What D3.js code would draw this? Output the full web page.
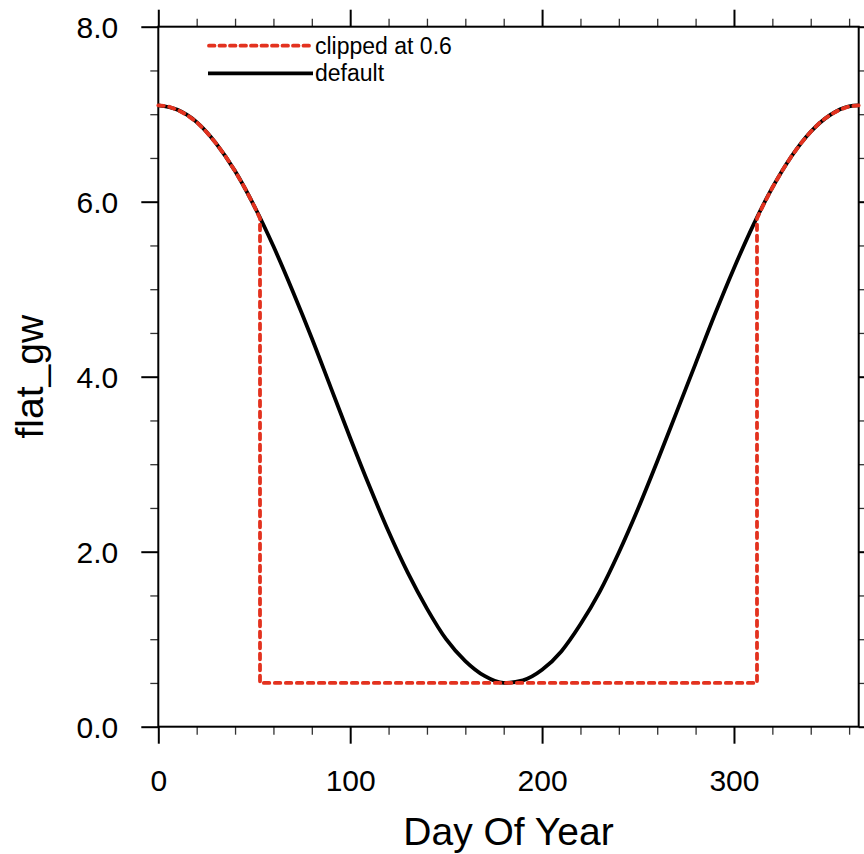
<!DOCTYPE html>
<html>
<head>
<meta charset="utf-8">
<script src="https://cdn.jsdelivr.net/npm/d3@7"></script>
<style>
  body { margin: 0; background: #fff; }
  svg { display: block; font-family: "Liberation Sans", Arial, Helvetica, sans-serif; }
  .tick text { font-family: "Liberation Sans", Arial, Helvetica, sans-serif; }
</style>
</head>
<body>
<script>
// default series
const days = [0, 10, 20, 30, 40, 50, 60, 70, 80, 90, 100, 110, 120, 130, 140, 150, 160, 170, 180,
  190, 200, 210, 220, 230, 240, 250, 260, 270, 280, 290, 300, 310, 320, 330, 340, 350, 360, 365];
const defaultVals = [7.10, 7.05, 6.91, 6.67, 6.35, 5.95, 5.49, 4.98, 4.44, 3.87, 3.30, 2.75, 2.23, 1.76, 1.35, 1.00, 0.75, 0.58, 0.50,
  0.53, 0.65, 0.86, 1.17, 1.54, 1.99, 2.49, 3.03, 3.59, 4.15, 4.71, 5.24, 5.73, 6.16, 6.52, 6.80, 6.99, 7.09, 7.10];

// clipped series
const clipDays = [0, 5, 10, 15, 20, 25, 30, 35, 40, 45, 50, 53, 53, 312, 312, 315, 320, 325, 330, 335, 340, 345, 350, 355, 360, 365];
const clipVals = [7.10, 7.09, 7.05, 6.99, 6.91, 6.80, 6.67, 6.52, 6.35, 6.16, 5.95, 5.81, 0.50, 0.50, 5.81, 5.95, 6.16, 6.35, 6.52, 6.67, 6.80, 6.91, 6.99, 7.05, 7.09, 7.10];

const xMajor = [0, 100, 200, 300];
const yMajor = [0, 2, 4, 6, 8];
const legendLabels = ["clipped at 0.6", "default"];

const w = 864;
const h = 854;
const pLeft = 158.3, pRight = 858.7, pTop = 26.7, pBottom = 726.7;
const red = "#e3321f";

const svg = d3.select("body").append("svg").attr("width", w).attr("height", h);

const x = d3.scaleLinear().domain([0, 365]).range([pLeft, pRight]);
const y = d3.scaleLinear().domain([0, 8]).range([pBottom, pTop]);

const xMinor = d3.range(0, 366, 20).filter((d) => !xMajor.includes(d));
const yMinor = d3.range(0, 8.01, 0.5).filter((d) => !yMajor.includes(d));

// axes: majors, minors, on all four sides
function addAxis(axisFn, scale, pos, majors, minors, withLabels) {
  const major = axisFn(scale).tickValues(majors).tickSize(17).tickPadding(14);
  if (!withLabels) major.tickFormat("");
  else major.tickFormat(scale === y ? d3.format(".1f") : d3.format("d"));
  const minor = axisFn(scale).tickValues(minors).tickSize(8).tickFormat("");
  const gM = svg.append("g").attr("transform", pos).call(minor);
  gM.selectAll("line").attr("stroke", "#333").attr("stroke-width", 1.3);
  const g = svg.append("g").attr("transform", pos).call(major);
  g.selectAll("line").attr("stroke", "#000").attr("stroke-width", 2);
  g.selectAll("text").attr("font-size", 30).attr("fill", "#000");
  svg.selectAll(".domain").remove();
  return g;
}

const gx = addAxis(d3.axisBottom, x, `translate(0,${pBottom})`, xMajor, xMinor, true);
gx.selectAll("text").attr("dy", null).attr("y", 64);
addAxis(d3.axisTop, x, `translate(0,${pTop})`, xMajor, xMinor, false);
const gy = addAxis(d3.axisLeft, y, `translate(${pLeft},0)`, yMajor, yMinor, true);
gy.selectAll("text").attr("dy", "0.36em").attr("x", -40);
addAxis(d3.axisRight, y, `translate(${pRight},0)`, yMajor, yMinor, false);

// frame
svg.append("rect")
  .attr("x", pLeft).attr("y", pTop)
  .attr("width", pRight - pLeft).attr("height", pBottom - pTop)
  .attr("fill", "none").attr("stroke", "#000").attr("stroke-width", 2);

// lines
const lineDefault = d3.line()
  .x((d, i) => x(days[i]))
  .y((d) => y(d))
  .curve(d3.curveMonotoneX);

const lineClip = d3.line()
  .x((d, i) => x(clipDays[i]))
  .y((d) => y(d));

svg.append("path")
  .attr("d", lineDefault(defaultVals))
  .attr("fill", "none").attr("stroke", "#000").attr("stroke-width", 3.8);

svg.append("path")
  .attr("d", lineClip(clipVals))
  .attr("fill", "none").attr("stroke", red).attr("stroke-width", 3.8)
  .attr("stroke-linecap", "round")
  .attr("stroke-dasharray", "5.5,5.5");

// legend
const legend = svg.append("g");
const legendY = [45.7, 73.3];
legend.append("line")
  .attr("x1", 209).attr("x2", 312).attr("y1", legendY[0]).attr("y2", legendY[0])
  .attr("stroke", red).attr("stroke-width", 3.8).attr("stroke-linecap", "round")
  .attr("stroke-dasharray", "5.5,5");
legend.append("line")
  .attr("x1", 208).attr("x2", 313).attr("y1", legendY[1]).attr("y2", legendY[1])
  .attr("stroke", "#000").attr("stroke-width", 3.8);
legend.selectAll("text")
  .data(legendLabels)
  .enter()
  .append("text")
  .attr("x", 315)
  .attr("y", (d, i) => legendY[i] + 8)
  .attr("font-size", 23)
  .text((d) => d);

// axis titles
svg.append("text")
  .attr("x", (pLeft + pRight) / 2)
  .attr("y", 845)
  .attr("text-anchor", "middle")
  .attr("font-size", 39)
  .text("Day Of Year");

svg.append("text")
  .attr("transform", `translate(43,${(pTop + pBottom) / 2}) rotate(-90)`)
  .attr("text-anchor", "middle")
  .attr("font-size", 39)
  .text("flat_gw");
</script>
</body>
</html>
